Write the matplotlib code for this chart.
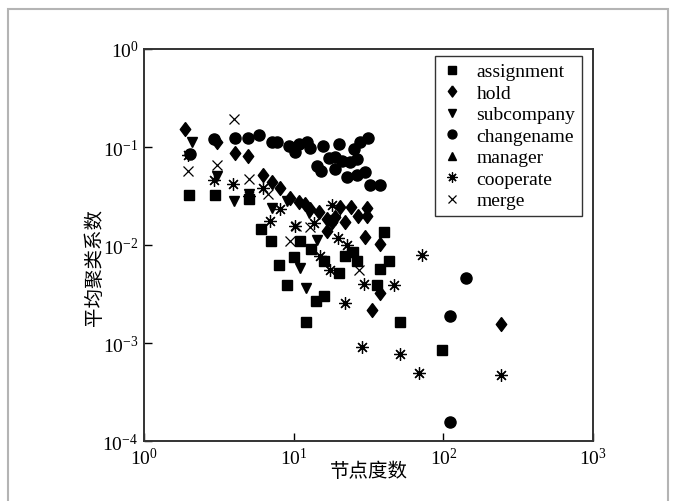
import matplotlib
matplotlib.use("Agg")
import matplotlib.pyplot as plt
from matplotlib.patches import Rectangle

plt.rcParams['font.family'] = ['Liberation Serif', 'Noto Sans CJK SC']
plt.rcParams['mathtext.fontset'] = 'custom'
plt.rcParams['mathtext.rm'] = 'Liberation Serif'
plt.rcParams['mathtext.default'] = 'regular'

# degree / average clustering coefficient for each relation type
assign_k = [2, 3, 5, 6, 7, 8, 9, 10, 11, 12, 13, 14, 16, 16, 20, 22, 25, 26.5,
            36, 38, 40, 43, 51, 98]
assign_c = [0.032, 0.032, 0.0295, 0.0145, 0.011, 0.0063, 0.0039, 0.0076, 0.011,
            0.00165, 0.0092, 0.0027, 0.0069, 0.0030, 0.0052, 0.0077, 0.0084,
            0.0068, 0.0039, 0.0057, 0.0135, 0.0068, 0.00165, 0.00085]

hold_k = [1.88, 3.06, 4.06, 4.94, 6.2, 7.2, 8.1, 9.5, 10.8, 11.9, 12.9, 14.7,
          16.7, 18, 19, 16.7, 22, 20.5, 24, 27, 31, 31, 30, 38, 38, 33.4, 244]
hold_c = [0.153, 0.112, 0.086, 0.080, 0.052, 0.0437, 0.038, 0.030, 0.0273,
          0.0262, 0.0233, 0.0219, 0.0184, 0.017, 0.0192, 0.014, 0.017, 0.0243,
          0.0243, 0.0199, 0.0237, 0.0196, 0.0122, 0.0102, 0.00327, 0.00215,
          0.00156]

subco_k = [2.08, 3.06, 4.0, 5, 7.2, 9.0, 12.6, 14.4, 11, 12.1, 19]
subco_c = [0.113, 0.051, 0.0283, 0.033, 0.024, 0.028, 0.021, 0.0112, 0.0058,
           0.0036, 0.018]

rename_k = [2.03, 2.94, 4.06, 4.94, 5.82, 7.15, 7.72, 9.33, 10.2, 10.8, 12.2,
            12.8, 15.8, 20.2, 25.1, 27.9, 31.2, 17.1, 19, 21, 23.9, 26.5, 14.3,
            15.2, 19, 22.7, 26.5, 30.1, 32.1, 37.5, 142.5, 110, 110]
rename_c = [0.085, 0.121, 0.124, 0.125, 0.133, 0.112, 0.112, 0.102, 0.0883,
            0.107, 0.112, 0.097, 0.102, 0.107, 0.095, 0.112, 0.123, 0.0767,
            0.0785, 0.0725, 0.0698, 0.0755, 0.0636, 0.0573, 0.0597, 0.049,
            0.0518, 0.0552, 0.041, 0.041, 0.0046, 0.00187, 0.000157]

manager_k = []
manager_c = []

coop_k = [1.97, 2.94, 3.91, 4.99, 6.28, 6.96, 8.13, 10.2, 13.7, 18.1, 19.7,
          22.6, 14.9, 17.5, 29.3, 46.5, 22.1, 72, 28.6, 51.6, 68.4, 244]
coop_c = [0.082, 0.0466, 0.042, 0.0316, 0.0382, 0.0177, 0.0233, 0.0156,
          0.0168, 0.0259, 0.0118, 0.0101, 0.0078, 0.0056, 0.004, 0.0039,
          0.00256, 0.0079, 0.0009, 0.00077, 0.00049, 0.000475]

merge_k = [4.02, 1.98, 3.05, 5.04, 6.7, 9.47, 10.3, 12.8, 27.2]
merge_c = [0.193, 0.057, 0.0657, 0.0477, 0.0335, 0.011, 0.0157, 0.0152, 0.0056]

# a diamond a bit fuller than matplotlib's thin 'd'
diamond = [(0, 1), (0.75, 0), (0, -1), (-0.75, 0), (0, 1)]

fig = plt.figure(figsize=(6.81, 5.02), dpi=100)
ax = fig.add_axes([0.2115, 0.1195, 0.6594, 0.7809])

ax.plot(assign_k, assign_c, 's', color='k', ms=7, ls='none', label='assignment')
ax.plot(hold_k, hold_c, marker=diamond, color='k', ms=10, ls='none', label='hold')
ax.plot(subco_k, subco_c, 'v', color='k', ms=7.5, ls='none', label='subcompany')
ax.plot(rename_k, rename_c, 'o', color='k', ms=8, ls='none', label='changename')
ax.plot(manager_k, manager_c, '^', color='k', ms=7.5, ls='none', label='manager')
ax.plot(coop_k, coop_c, marker=(8, 2, 0), color='k', ms=9, mew=0.9, ls='none',
        label='cooperate')
ax.plot(merge_k, merge_c, 'x', color='k', ms=7, mew=0.9, ls='none', label='merge')

ax.set_xscale('log')
ax.set_yscale('log')
ax.set_xlim(1, 1000)
ax.set_ylim(1e-4, 1)
ax.minorticks_off()
ax.tick_params(direction='in', length=6, width=1, labelsize=14, pad=4)
for s in ax.spines.values():
    s.set_linewidth(1.4)
    s.set_color('#333333')

ax.set_xlabel('节点度数', fontsize=14, labelpad=-4.5)
ax.set_ylabel('平均聚类系数', fontsize=14)
ax.yaxis.set_label_coords(-0.089, 0.446)

leg = ax.legend(loc='upper right', fontsize=14, frameon=True, fancybox=False,
                edgecolor='k', handlelength=1.1, handletextpad=0.68,
                borderaxespad=0, borderpad=0.35, labelspacing=0.2,
                markerscale=0.8, bbox_to_anchor=(0.9755, 0.982))
leg.get_frame().set_linewidth(1.0)

fig.patches.append(Rectangle((8 / 681, -0.05), 660 / 681, 1 - 10 / 502 + 0.05,
                             transform=fig.transFigure, fill=False,
                             edgecolor='#b4b4b4', linewidth=1.5))

fig.savefig('out.png', dpi=100)
